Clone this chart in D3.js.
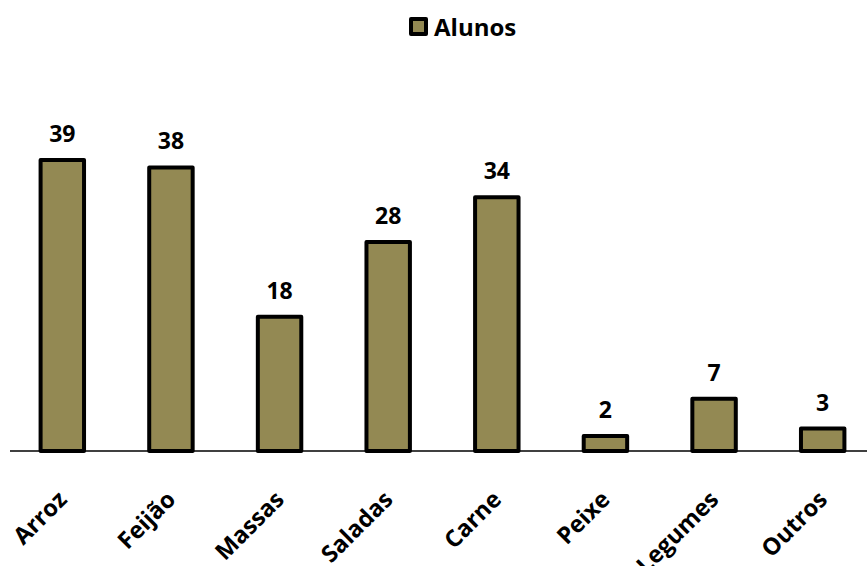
<!DOCTYPE html>
<html>
<head>
<meta charset="utf-8">
<script src="https://cdn.jsdelivr.net/npm/d3@7"></script>
<style>
  html, body { margin: 0; padding: 0; background: #fff; }
  svg { display: block; font-family: "Open Sans", "Liberation Sans", sans-serif; }
</style>
</head>
<body>
<svg id="chart" width="867" height="566"></svg>
<script>
// Preferred foods among students
const categories = ["Arroz", "Feijão", "Massas", "Saladas", "Carne", "Peixe", "Legumes", "Outros"];
const alunos = [39, 38, 18, 28, 34, 2, 7, 3];
const seriesName = "Alunos";

const svg = d3.select("#chart");
const W = 867, H = 566;
const baseY = 451;
const fillColor = "#938953";

const x = d3.scaleBand()
  .domain(categories)
  .range([8, 877])
  .paddingInner(0.6)
  .paddingOuter(0.3);

const y = d3.scaleLinear()
  .domain([0, 39])
  .range([baseY, 160]);

// bars
svg.append("g")
  .selectAll("rect")
  .data(alunos)
  .join("rect")
  .attr("x", (d, i) => x(categories[i]))
  .attr("y", d => y(d))
  .attr("width", x.bandwidth())
  .attr("height", d => baseY - y(d))
  .attr("fill", fillColor)
  .attr("stroke", "#000")
  .attr("stroke-width", 4)
  .attr("stroke-linejoin", "round");

// category axis line
const xAxis = d3.axisBottom(x).tickSize(0).tickFormat("");
const axisG = svg.append("g")
  .attr("transform", `translate(0,${baseY})`)
  .call(xAxis);
axisG.select(".domain").remove();
axisG.append("line")
  .attr("x1", 10).attr("x2", W)
  .attr("y1", 0).attr("y2", 0)
  .attr("stroke", "#000").attr("stroke-width", 1.5);

// value labels
svg.append("g")
  .selectAll("text")
  .data(alunos)
  .join("text")
  .attr("x", (d, i) => x(categories[i]) + x.bandwidth() / 2)
  .attr("y", d => y(d) - 18)
  .attr("text-anchor", "middle")
  .attr("font-size", 23)
  .attr("font-weight", "bold")
  .attr("fill", "#000")
  .text(d => d);

// rotated category labels
svg.append("g")
  .selectAll("text")
  .data(categories)
  .join("text")
  .attr("transform", d => `translate(${x(d) + x.bandwidth() / 2 + 6},${baseY + 50}) rotate(-45)`)
  .attr("text-anchor", "end")
  .attr("font-size", 23.5)
  .attr("font-weight", "bold")
  .attr("fill", "#000")
  .text(d => d);

// legend
const legend = svg.append("g").attr("transform", "translate(411,19)");
legend.append("rect")
  .attr("x", 0).attr("y", 0)
  .attr("width", 15).attr("height", 15)
  .attr("fill", fillColor)
  .attr("stroke", "#000").attr("stroke-width", 4)
  .attr("stroke-linejoin", "round");
legend.append("text")
  .attr("x", 23).attr("y", 17)
  .attr("font-size", 24)
  .attr("font-weight", "bold")
  .attr("fill", "#000")
  .text(seriesName);
</script>
</body>
</html>
